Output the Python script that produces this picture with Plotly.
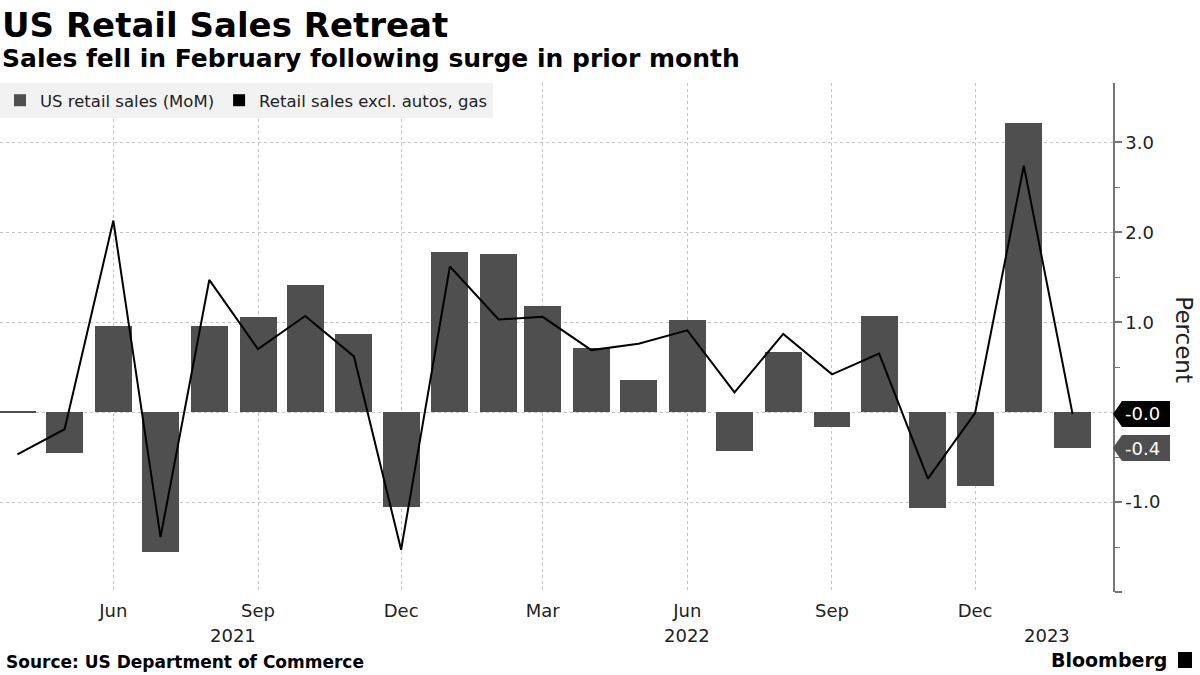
import plotly.graph_objects as go

months = ["2021-04-01", "2021-05-01", "2021-06-01", "2021-07-01", "2021-08-01", "2021-09-01",
          "2021-10-01", "2021-11-01", "2021-12-01", "2022-01-01", "2022-02-01", "2022-03-01",
          "2022-04-01", "2022-05-01", "2022-06-01", "2022-07-01", "2022-08-01", "2022-09-01",
          "2022-10-01", "2022-11-01", "2022-12-01", "2023-01-01", "2023-02-01"]
retail_sales = [0.01, -0.45, 0.96, -1.56, 0.96, 1.06, 1.41, 0.87, -1.05, 1.78, 1.76, 1.18,
                0.71, 0.36, 1.02, -0.43, 0.67, -0.16, 1.07, -1.07, -0.82, 3.21, -0.40]
excl_autos_gas = [-0.47, -0.19, 2.13, -1.39, 1.47, 0.70, 1.07, 0.62, -1.53, 1.62, 1.03, 1.06,
                  0.69, 0.76, 0.91, 0.22, 0.87, 0.42, 0.65, -0.74, -0.01, 2.74, -0.02]
x_ticks = ["2021-06-01", "2021-09-01", "2021-12-01", "2022-03-01", "2022-06-01",
           "2022-09-01", "2022-12-01"]
x_tick_labels = ["Jun", "Sep", "Dec", "Mar", "Jun", "Sep", "Dec"]
year_labels = ["2021", "2022", "2023"]
year_positions = ["2021-08-16", "2022-06-01", "2023-01-16"]
y_ticks = [-2, -1, 0, 1, 2, 3]
y_tick_labels = ["", "-1.0", "", "1.0", "2.0", "3.0"]
y_minor_ticks = [-1.5, -0.5, 0.5, 1.5, 2.5]

BAR = "#4f4f4f"
FONT = "DejaVu Sans"
GRID = "#c4c4c4"

fig = go.Figure()
fig.add_trace(go.Bar(x=months, y=retail_sales, name="US retail sales (MoM)",
                     marker=dict(color=BAR, line=dict(width=0)),
                     width=23.5 * 86400000))
fig.add_trace(go.Scatter(x=months, y=excl_autos_gas, mode="lines", showlegend=False,
                         line=dict(color="#000000", width=2), name="Retail sales excl. autos, gas"))
fig.add_trace(go.Scatter(x=[None], y=[None], mode="markers", name="Retail sales excl. autos, gas",
                         marker=dict(symbol="square", size=12, color="#000000")))

fig.update_layout(
    width=1200, height=675,
    margin=dict(l=0, r=87, t=83, b=83, autoexpand=False),
    plot_bgcolor="white", paper_bgcolor="white",
    font=dict(family=FONT, color="#222222"),
    showlegend=True,
    legend=dict(orientation="h", x=0, y=1, xanchor="left", yanchor="top",
                bgcolor="#f2f2f2", font=dict(size=16.5, color="#222222"),
                itemsizing="constant", tracegroupgap=0, itemwidth=30),
    bargap=0,
)
fig.update_xaxes(type="date", range=["2021-03-20 22:00", "2023-02-26 17:00"],
                 tickmode="array", tickvals=x_ticks, ticktext=x_tick_labels,
                 tickfont=dict(size=18, color="#222222"),
                 showgrid=True, gridcolor=GRID, griddash="dot", gridwidth=1,
                 showline=False, zeroline=False, ticks="", ticklabelstandoff=6)
fig.update_yaxes(side="right", range=[-2.0, 3.66],
                 tickmode="array", tickvals=y_ticks, ticktext=y_tick_labels,
                 tickfont=dict(size=18, color="#222222"),
                 showgrid=True, gridcolor=GRID, griddash="dot", gridwidth=1,
                 zeroline=False, showline=True, linecolor="#777777", linewidth=1.5,
                 ticks="outside", ticklen=7, tickwidth=1.5, tickcolor="#777777",
                 minor=dict(tickmode="array", tickvals=y_minor_ticks, ticks="outside",
                            ticklen=5, tickwidth=1, tickcolor="#777777", showgrid=False))

# year labels
for yl, xp in zip(year_labels, year_positions):
    fig.add_annotation(x=xp, y=-0.085, xref="x", yref="paper", text=yl, showarrow=False,
                       font=dict(size=18, color="#222222"), xanchor="center", yanchor="middle")

# end-value labels
end_labels = [(excl_autos_gas[-1], "#000000"), (retail_sales[-1], BAR)]
for val, col in end_labels:
    fig.add_shape(type="path", xref="paper", yref="y", xsizemode="pixel", ysizemode="pixel",
                  xanchor=1, yanchor=val,
                  path="M0,0 L9,13 L57,13 L57,-13 L9,-13 Z",
                  fillcolor=col, line=dict(width=0))
    fig.add_annotation(x=1, y=val, xref="paper", yref="y", xanchor="left", xshift=10,
                       text=f"{val:.1f}", showarrow=False,
                       font=dict(size=18, color="white"), yanchor="middle")

fig.add_annotation(x=1.0635, y=0.495, xref="paper", yref="paper", text="Percent",
                   textangle=90, showarrow=False, font=dict(size=23, color="#222222"),
                   xanchor="center", yanchor="middle")

# titles
fig.add_annotation(x=0.0, y=(592 - 25) / 509, xref="paper", yref="paper",
                   text="<b>US Retail Sales Retreat</b>", showarrow=False,
                   font=dict(size=34, color="#000000"), xanchor="left", yanchor="middle")
fig.add_annotation(x=0.0, y=(592 - 59) / 509, xref="paper", yref="paper",
                   text="<b>Sales fell in February following surge in prior month</b>",
                   showarrow=False, font=dict(size=25, color="#000000"),
                   xanchor="left", yanchor="middle")

# footer
fig.add_annotation(x=0.004, y=(592 - 662) / 509, xref="paper", yref="paper",
                   text="<b>Source: US Department of Commerce</b>", showarrow=False,
                   font=dict(size=17, color="#000000"), xanchor="left", yanchor="middle")
fig.add_annotation(x=1169 / 1113, y=(592 - 660) / 509, xref="paper", yref="paper",
                   text="<b>Bloomberg</b>", showarrow=False,
                   font=dict(size=19, color="#000000"), xanchor="right", yanchor="middle")
fig.add_shape(type="rect", xref="paper", yref="paper",
              x0=1178 / 1113, x1=1192 / 1113, y0=(592 - 668) / 509, y1=(592 - 652) / 509,
              fillcolor="#000000", line=dict(width=0))

fig.write_html("out.html", config={"displayModeBar": False},
               post_script="document.body.style.margin='0';document.body.style.overflow='hidden';")
